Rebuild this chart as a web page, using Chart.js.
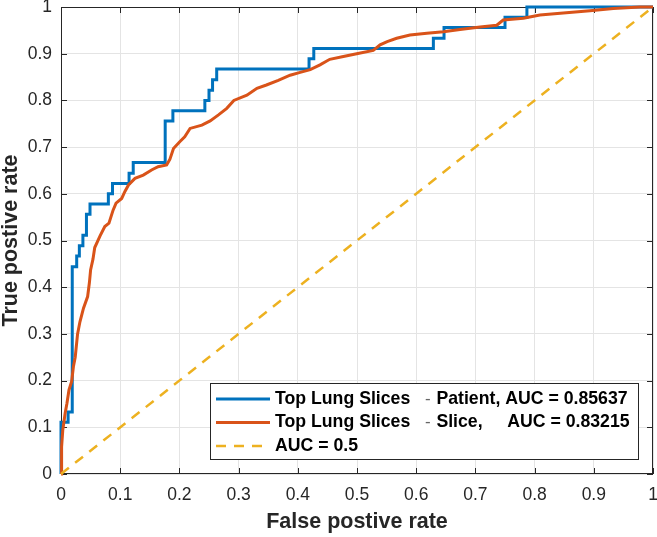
<!DOCTYPE html>
<html>
<head>
<meta charset="utf-8">
<script src="https://cdn.jsdelivr.net/npm/chart.js@4.4.1/dist/chart.umd.min.js"></script>
<style>
  html, body { margin: 0; padding: 0; background: #fff; }
  #wrap { width: 657px; height: 537px; }
</style>
</head>
<body>
<div id="wrap"><canvas id="roc" width="657" height="537"></canvas></div>
<script>
// ROC points (false positive rate / true positive rate)
const patientFpr = [0, 0, 0.012, 0.019, 0.0265, 0.031, 0.037, 0.043, 0.049, 0.080, 0.087, 0.115, 0.122,
  0.176, 0.189, 0.243, 0.250, 0.256, 0.263, 0.419, 0.427, 0.629, 0.647, 0.750, 0.787, 1.0];
const patientTpr = [0, 0.111, 0.133, 0.444, 0.467, 0.489, 0.511, 0.556, 0.578, 0.600, 0.622, 0.644, 0.667,
  0.756, 0.778, 0.800, 0.822, 0.844, 0.867, 0.889, 0.911, 0.933, 0.956, 0.978, 1.0, 1.0];

const sliceFpr = [0, 0.001, 0.003, 0.007, 0.010, 0.0135, 0.018, 0.021, 0.024, 0.028, 0.032, 0.038, 0.045,
  0.048, 0.050, 0.054, 0.057, 0.066, 0.074, 0.081, 0.088, 0.093, 0.1025, 0.108, 0.114, 0.125, 0.139,
  0.153, 0.164, 0.1785, 0.184, 0.190, 0.201, 0.209, 0.218, 0.238, 0.252, 0.266, 0.280, 0.292, 0.314,
  0.331, 0.347, 0.367, 0.387, 0.404, 0.421, 0.4375, 0.454, 0.477, 0.4995, 0.5275, 0.539, 0.551, 0.567,
  0.5895, 0.618, 0.646, 0.674, 0.708, 0.736, 0.747, 0.781, 0.809, 0.8485, 0.8935, 0.933, 0.978, 1.0];
const sliceTpr = [0, 0.058, 0.094, 0.130, 0.151, 0.180, 0.198, 0.230, 0.250, 0.300, 0.326, 0.355, 0.380,
  0.410, 0.437, 0.460, 0.485, 0.510, 0.530, 0.537, 0.565, 0.580, 0.590, 0.605, 0.619, 0.633, 0.640,
  0.651, 0.658, 0.662, 0.674, 0.697, 0.712, 0.722, 0.740, 0.747, 0.756, 0.769, 0.783, 0.800, 0.811,
  0.826, 0.833, 0.843, 0.854, 0.860, 0.866, 0.876, 0.888, 0.894, 0.900, 0.907, 0.919, 0.926, 0.933,
  0.940, 0.944, 0.947, 0.952, 0.957, 0.961, 0.972, 0.976, 0.983, 0.987, 0.992, 0.997, 1.0, 1.0];

const chanceFpr = [0, 1];
const chanceTpr = [0, 1];

const seriesLabels = [
  'Top Lung Slices   - Patient, AUC = 0.85637',
  'Top Lung Slices   - Slice,     AUC = 0.83215',
  'AUC = 0.5',
];

const xTicks = [0, 0.1, 0.2, 0.3, 0.4, 0.5, 0.6, 0.7, 0.8, 0.9, 1];
const xTickLabels = ['0', '0.1', '0.2', '0.3', '0.4', '0.5', '0.6', '0.7', '0.8', '0.9', '1'];
const yTicks = [0, 0.1, 0.2, 0.3, 0.4, 0.5, 0.6, 0.7, 0.8, 0.9, 1];
const yTickLabels = ['0', '0.1', '0.2', '0.3', '0.4', '0.5', '0.6', '0.7', '0.8', '0.9', '1'];

const toPoints = (xs, ys) => xs.map((x, i) => ({ x, y: ys[i] }));

const FONT = '"Liberation Sans", Arial, Helvetica, sans-serif';
const INK = '#262626';
const BLUE = '#0072BD';
const ORANGE = '#D95319';
const YELLOW = '#EDB120';

// MATLAB-ish box: frame on all four sides with inward tick marks
const matlabFrame = {
  id: 'matlabFrame',
  beforeDatasetsDraw(chart) {
    const { ctx, chartArea: a, scales } = chart;
    ctx.save();
    ctx.strokeStyle = INK;
    ctx.lineWidth = 1;
    ctx.strokeRect(a.left + 0.5, a.top + 0.5, a.right - a.left - 1, a.bottom - a.top - 1);
    ctx.beginPath();
    for (const t of xTicks) {
      const px = Math.round(scales.x.getPixelForValue(t)) + 0.5;
      ctx.moveTo(px, a.bottom); ctx.lineTo(px, a.bottom - 6);
      ctx.moveTo(px, a.top); ctx.lineTo(px, a.top + 6);
    }
    for (const t of yTicks) {
      const py = Math.round(scales.y.getPixelForValue(t)) + 0.5;
      ctx.moveTo(a.left, py); ctx.lineTo(a.left + 6, py);
      ctx.moveTo(a.right, py); ctx.lineTo(a.right - 6, py);
    }
    ctx.stroke();
    ctx.restore();
  },
};

// legend box inside the axes, lower right
const boxLegend = {
  id: 'boxLegend',
  afterDraw(chart) {
    const { ctx } = chart;
    const left = 210, top = 383, right = 638, bottom = 459;
    const rows = [399, 422.5, 446];
    ctx.save();
    ctx.fillStyle = '#fff';
    ctx.fillRect(left, top, right - left, bottom - top);
    ctx.strokeStyle = INK;
    ctx.lineWidth = 1;
    ctx.strokeRect(left + 0.5, top + 0.5, right - left, bottom - top);
    chart.data.datasets.forEach((ds, i) => {
      const y = rows[i];
      ctx.beginPath();
      ctx.strokeStyle = ds.borderColor;
      ctx.lineWidth = ds.borderWidth;
      ctx.setLineDash(ds.borderDash || []);
      ctx.moveTo(216, y);
      ctx.lineTo(270, y);
      ctx.stroke();
      ctx.setLineDash([]);

      ctx.textBaseline = 'middle';
      ctx.textAlign = 'left';
      const parts = ds.label.split(' - ');
      let x = 275;
      const bold = `bold 17.7px ${FONT}`;
      ctx.font = bold;
      ctx.fillStyle = '#000';
      if (parts.length === 2) {
        ctx.fillText(parts[0] + ' ', x, y);
        x += ctx.measureText(parts[0] + ' ').width;
        ctx.font = `17px ${FONT}`;
        ctx.fillStyle = '#666';
        ctx.fillText('-', x, y);
        x += ctx.measureText('- ').width + 1;
        ctx.font = bold;
        ctx.fillStyle = '#000';
        ctx.fillText(parts[1], x, y);
      } else {
        ctx.fillText(ds.label, x, y);
      }
    });
    ctx.restore();
  },
};

new Chart(document.getElementById('roc'), {
  type: 'line',
  data: {
    datasets: [
      {
        label: seriesLabels[0],
        data: toPoints(patientFpr, patientTpr),
        borderColor: BLUE,
        borderWidth: 3,
        stepped: 'before',
        order: 3,
      },
      {
        label: seriesLabels[1],
        data: toPoints(sliceFpr, sliceTpr),
        borderColor: ORANGE,
        borderWidth: 3,
        order: 2,
      },
      {
        label: seriesLabels[2],
        data: toPoints(chanceFpr, chanceTpr),
        borderColor: YELLOW,
        borderWidth: 2.5,
        borderDash: [10, 8],
        order: 1,
      },
    ],
  },
  options: {
    responsive: false,
    animation: false,
    clip: false,
    layout: { padding: { top: 7, right: 4, left: 0, bottom: 0 } },
    elements: {
      point: { radius: 0, hoverRadius: 0 },
      line: { tension: 0, fill: false, borderCapStyle: 'butt' },
    },
    plugins: {
      legend: { display: false },
      tooltip: { enabled: false },
    },
    scales: {
      x: {
        type: 'linear',
        min: 0,
        max: 1,
        afterBuildTicks: (s) => { s.ticks = xTicks.map((v) => ({ value: v })); },
        afterFit: (s) => { s.height = 63; s.paddingLeft = 0; s.paddingRight = 0; },
        ticks: {
          callback: (v, i) => xTickLabels[i],
          color: INK,
          padding: 11,
          maxRotation: 0,
          autoSkip: false,
          font: { family: FONT, size: 17.5 },
        },
        grid: { color: '#e4e4e4', drawTicks: false },
        border: { display: false },
        title: {
          display: true,
          text: 'False postive rate',
          color: INK,
          padding: { top: 0, bottom: 4 },
          font: { family: FONT, size: 21.5, weight: 'bold', lineHeight: 1 },
        },
      },
      y: {
        type: 'linear',
        min: 0,
        max: 1,
        afterBuildTicks: (s) => { s.ticks = yTicks.map((v) => ({ value: v })); },
        afterFit: (s) => { s.width = 61; s.paddingTop = 0; s.paddingBottom = 0; },
        ticks: {
          callback: (v, i) => yTickLabels[i],
          color: INK,
          padding: 9,
          autoSkip: false,
          font: { family: FONT, size: 17.5 },
        },
        grid: { color: '#e4e4e4', drawTicks: false },
        border: { display: false },
        title: {
          display: true,
          text: 'True postive rate',
          color: INK,
          padding: { top: 0, bottom: 0 },
          font: { family: FONT, size: 21.5, weight: 'bold', lineHeight: 1 },
        },
      },
    },
  },
  plugins: [matlabFrame, boxLegend],
});
</script>
</body>
</html>
